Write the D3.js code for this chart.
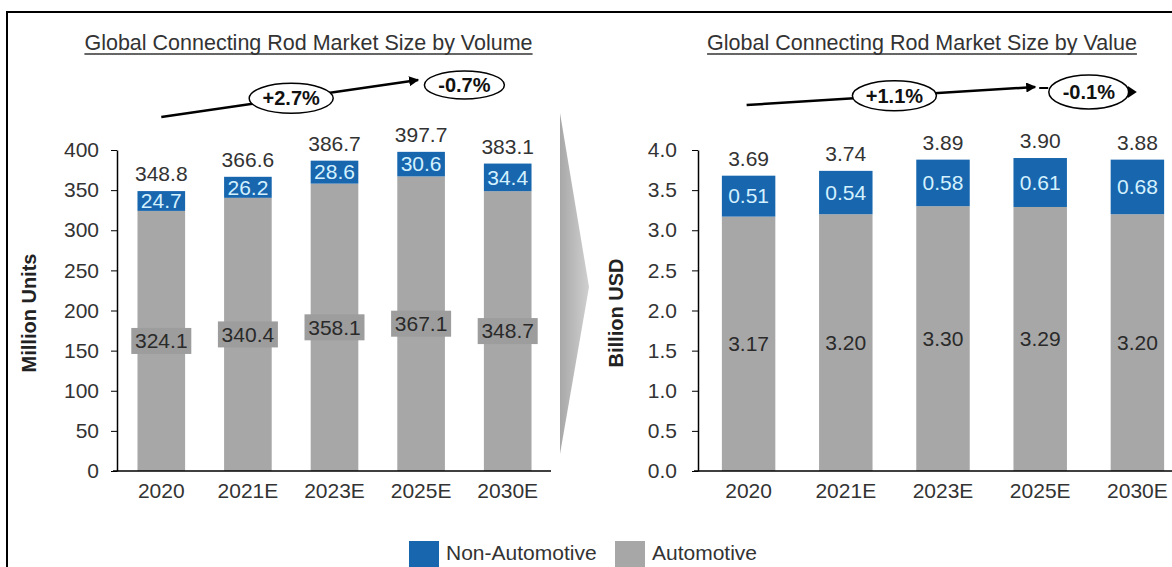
<!DOCTYPE html>
<html>
<head>
<meta charset="utf-8">
<script src="https://cdn.jsdelivr.net/npm/d3@7"></script>
<style>
  html, body { margin: 0; padding: 0; background: #fff; }
  svg { display: block; font-family: "Liberation Sans", Arial, sans-serif; }
</style>
</head>
<body>
<svg id="chart" width="1172" height="567"></svg>
<script>
// ---------- data ----------
const years = ["2020", "2021E", "2023E", "2025E", "2030E"];
const volAutomotive = [324.1, 340.4, 358.1, 367.1, 348.7];
const volNonAutomotive = [24.7, 26.2, 28.6, 30.6, 34.4];
const volTotal = [348.8, 366.6, 386.7, 397.7, 383.1];
const valAutomotive = [3.17, 3.20, 3.30, 3.29, 3.20];
const valNonAutomotive = [0.51, 0.54, 0.58, 0.61, 0.68];
const valTotal = [3.69, 3.74, 3.89, 3.90, 3.88];
const volTicks = [0, 50, 100, 150, 200, 250, 300, 350, 400];
const valTicks = [0, 0.5, 1.0, 1.5, 2.0, 2.5, 3.0, 3.5, 4.0];
const volCagr = ["+2.7%", "-0.7%"];
const valCagr = ["+1.1%", "-0.1%"];
const seriesNames = ["Non-Automotive", "Automotive"];
const titles = ["Global Connecting Rod Market Size by Volume", "Global Connecting Rod Market Size by Value"];
const yTitles = ["Million Units", "Billion USD"];

// ---------- style ----------
const BLUE = "#1866ad";
const GRAY = "#a7a7a7";
const TXT = "#333";
const FONT = 21;

const svg = d3.select("#chart");
const defs = svg.append("defs");
defs.append("marker").attr("id", "ah").attr("viewBox", "0 0 10 10")
  .attr("refX", 9).attr("refY", 5).attr("markerWidth", 4).attr("markerHeight", 4)
  .attr("orient", "auto")
  .append("path").attr("d", "M0,0 L10,5 L0,10 Z").attr("fill", "#000");
const grad = defs.append("linearGradient").attr("id", "chev").attr("x1", "0").attr("x2", "1").attr("y1", "0").attr("y2", "0");
grad.append("stop").attr("offset", "0").attr("stop-color", "#a8a8a8");
grad.append("stop").attr("offset", "1").attr("stop-color", "#d0d0d0");

// outer frame
svg.append("rect").attr("x", 7).attr("y", 12).attr("width", 1200).attr("height", 600)
  .attr("fill", "none").attr("stroke", "#000").attr("stroke-width", 2);

function panel(cfg) {
  const x = d3.scaleBand().domain(years).range(cfg.xRange).paddingInner(0.45).paddingOuter(0.225);
  const y = d3.scaleLinear().domain(cfg.yDomain).range([471, 150]);
  const g = svg.append("g");
  const cx = d => x(d) + x.bandwidth() / 2;

  // title
  const t = g.append("text").attr("x", cfg.titleX).attr("y", 50).attr("text-anchor", "middle")
    .attr("font-size", 21.5).attr("fill", TXT).text(cfg.title);
  const bb = t.node().getBBox();
  g.append("line").attr("x1", bb.x).attr("x2", bb.x + bb.width).attr("y1", 54).attr("y2", 54)
    .attr("stroke", TXT).attr("stroke-width", 1.3);

  // bars
  years.forEach((yr, i) => {
    const a = cfg.auto[i], n = cfg.non[i];
    g.append("rect").attr("x", x(yr)).attr("width", x.bandwidth())
      .attr("y", y(a)).attr("height", y(0) - y(a)).attr("fill", GRAY);
    g.append("rect").attr("x", x(yr)).attr("width", x.bandwidth())
      .attr("y", y(a + n)).attr("height", y(a) - y(a + n)).attr("fill", BLUE);
  });

  // axes
  const ya = g.append("g").attr("transform", `translate(${cfg.axisX},0)`)
    .call(d3.axisLeft(y).tickValues(cfg.ticks).tickFormat(cfg.tickFmt)
      .tickSize(6).tickSizeOuter(0).tickPadding(cfg.tickPad));
  ya.selectAll("text").attr("font-size", FONT).attr("fill", TXT).attr("font-family", "Liberation Sans, Arial, sans-serif");
  ya.selectAll("line").attr("stroke", "#000");
  ya.select(".domain").attr("stroke", "#000").attr("stroke-width", 1.5);

  const xa = g.append("g").attr("transform", `translate(0,${y(0)})`)
    .call(d3.axisBottom(x).tickSize(0).tickPadding(12));
  xa.select(".domain").remove();
  xa.selectAll("text").attr("font-size", FONT).attr("fill", TXT).attr("font-family", "Liberation Sans, Arial, sans-serif");
  g.append("line").attr("x1", cfg.axisX - 4).attr("x2", cfg.baseEnd)
    .attr("y1", y(0)).attr("y2", y(0)).attr("stroke", "#000").attr("stroke-width", 1.5);

  // y title
  g.append("text").attr("transform", `translate(${cfg.yTitleX},313) rotate(-90)`)
    .attr("text-anchor", "middle").attr("font-size", 20).attr("font-weight", "bold")
    .attr("fill", "#222").text(cfg.yTitle);

  // labels
  years.forEach((yr, i) => {
    const a = cfg.auto[i], n = cfg.non[i];
    g.append("text").attr("x", cx(yr)).attr("y", y(a + n) - 17).attr("dy", "0.35em")
      .attr("text-anchor", "middle").attr("font-size", FONT).attr("fill", TXT)
      .text(cfg.fmt(cfg.total[i]));
    g.append("text").attr("x", cx(yr)).attr("y", (y(a) + y(a + n)) / 2).attr("dy", "0.35em")
      .attr("text-anchor", "middle").attr("font-size", FONT).attr("fill", "#d4f1ff")
      .text(cfg.fmt(n));
    const ay = (y(0) + y(a)) / 2;
    if (cfg.boxes) {
      g.append("rect").attr("x", cx(yr) - 30).attr("y", ay - 13).attr("width", 60).attr("height", 26)
        .attr("fill", "#9d9d9d");
    }
    g.append("text").attr("x", cx(yr)).attr("y", ay).attr("dy", "0.35em")
      .attr("text-anchor", "middle").attr("font-size", FONT).attr("fill", "#2a2a2a")
      .text(cfg.fmt(a));
  });

  // CAGR annotation
  const c = cfg.cagr;
  const x0 = cx(years[0]) + c.startOff, x1 = cx(years[3]) + c.endOff;
  g.append("line").attr("x1", x0).attr("y1", c.y0).attr("x2", x1).attr("y2", c.y1)
    .attr("stroke", "#000").attr("stroke-width", 2.5).attr("marker-end", "url(#ah)");
  const e1x = (cx(years[1]) + cx(years[2])) / 2;
  const e1y = c.y0 + (c.y1 - c.y0) * (e1x - x0) / (x1 - x0);
  const e2x = (cx(years[3]) + cx(years[4])) / 2;
  const e2y = c.y1 + 5;
  if (c.dash) {
    g.append("line").attr("x1", x1 + 4).attr("x2", x1 + 13).attr("y1", c.y1 + 1).attr("y2", c.y1 + 1)
      .attr("stroke", "#000").attr("stroke-width", 2);
  }
  [[e1x, e1y, c.labels[0], 42, 15], [e2x, e2y, c.labels[1], 40, c.ry2]].forEach(([ex, ey, lb, rx, ry]) => {
    g.append("ellipse").attr("cx", ex).attr("cy", ey).attr("rx", rx).attr("ry", ry)
      .attr("fill", "#fff").attr("stroke", "#000").attr("stroke-width", 1.5);
    g.append("text").attr("x", ex).attr("y", ey).attr("dy", "0.35em").attr("text-anchor", "middle")
      .attr("font-size", 20).attr("font-weight", "bold").attr("fill", "#111").text(lb);
  });
  if (c.tailArrow) {
    g.append("path").attr("d", `M${e2x + 39},${e2y - 6} L${e2x + 48},${e2y} L${e2x + 39},${e2y + 6} Z`)
      .attr("fill", "#000");
  }
}

panel({
  xRange: [118, 551], yDomain: [0, 400], axisX: 117, baseEnd: 551, tickPad: 12,
  ticks: volTicks, tickFmt: d3.format("d"), fmt: d3.format(".1f"),
  auto: volAutomotive, non: volNonAutomotive, total: volTotal,
  title: titles[0], titleX: 308.5, yTitle: yTitles[0], yTitleX: 36, boxes: true,
  cagr: { y0: 117, y1: 80, startOff: 0, endOff: -3, labels: volCagr, dash: false, tailArrow: false, ry2: 14 }
});

panel({
  xRange: [700, 1186], yDomain: [0, 4.0], axisX: 698, baseEnd: 1180, tickPad: 15,
  ticks: valTicks, tickFmt: d3.format(".1f"), fmt: d3.format(".2f"),
  auto: valAutomotive, non: valNonAutomotive, total: valTotal,
  title: titles[1], titleX: 922, yTitle: yTitles[1], yTitleX: 623, boxes: false,
  cagr: { y0: 105, y1: 87, startOff: -2, endOff: -5, labels: valCagr, dash: true, tailArrow: true, ry2: 17 }
});

// chevron between the panels
svg.append("path").attr("d", "M560,113 L589,287 L560,454 Z").attr("fill", "url(#chev)");

// legend
const legend = svg.append("g");
const legX = [409, 615];
const legColors = [BLUE, GRAY];
seriesNames.forEach((s, i) => {
  legend.append("rect").attr("x", legX[i]).attr("y", 541).attr("width", 30).attr("height", 30).attr("fill", legColors[i]);
  legend.append("text").attr("x", legX[i] + 37).attr("y", 560).attr("font-size", 21).attr("fill", TXT).text(s);
});
</script>
</body>
</html>
